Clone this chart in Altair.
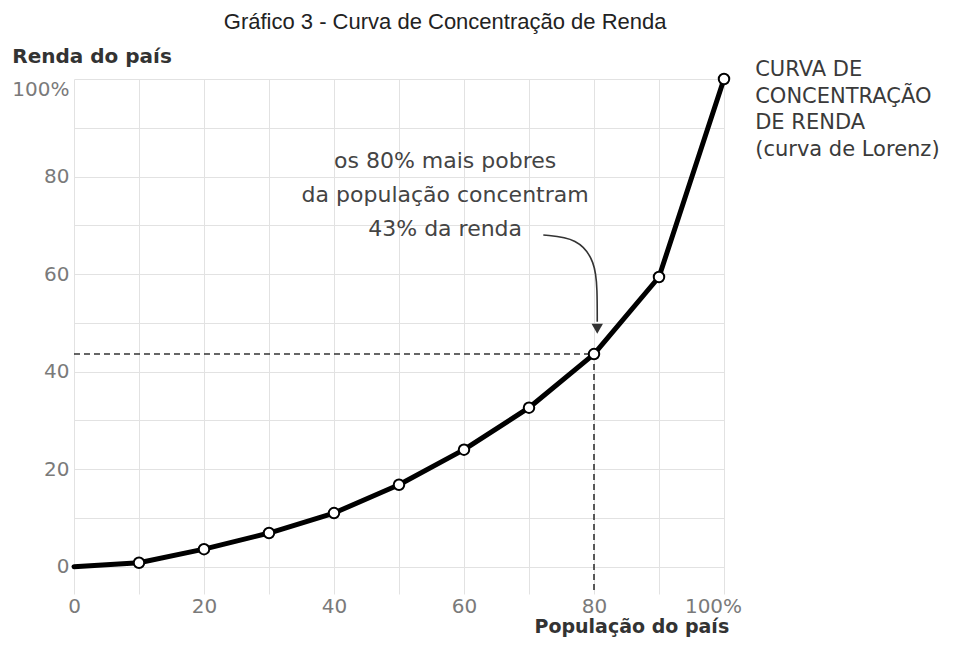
import altair as alt
import pandas as pd

# ---- data ----
populacao = [0, 10, 20, 30, 40, 50, 60, 70, 80, 90, 100]
renda = [0, 0.8, 3.6, 6.9, 11.0, 16.8, 24.0, 32.6, 43.6, 59.4, 100]

grid_ticks = [0, 10, 20, 30, 40, 50, 60, 70, 80, 90, 100]

# reference (dashed) lines at the 80% point
ref_x = [0, 80, 80, 80]
ref_y = [43.6, 43.6, 43.6, -5.6]
ref_seg = ["h", "h", "v", "v"]

# curved arrow from the annotation to the 80% point
arrow_x = [72.2, 77.5, 80.2, 80.5, 80.5]
arrow_y = [68.0, 67.4, 62.5, 56.7, 50.2]
arrow_head_x = [80.5]
arrow_head_y = [48.8]

annot_lines = ["os 80% mais pobres", "da população concentram", "43% da renda"]
annot_x = [57.1, 57.1, 57.1]
annot_y = [83.2, 76.2, 69.2]

legend_lines = ["CURVA DE", "CONCENTRAÇÃO", "DE RENDA", "(curva de Lorenz)"]
legend_x = [104.8, 104.8, 104.8, 104.8]
legend_y = [101.8, 96.3, 91.0, 85.5]

title_text = ["Gráfico 3 - Curva de Concentração de Renda"]
title_x = [57.1]
title_y = [111.7]

ytitle_text = ["Renda do país"]
ytitle_x = [-9.5]
ytitle_y = [104.5]

xtitle_text = ["População do país"]
xtitle_x = [100.8]
xtitle_y = [-12.4]

# ---- tables ----
curve = pd.DataFrame({"x": populacao, "y": renda})
pts = curve[curve["x"] > 0]
ref = pd.DataFrame({"x": ref_x, "y": ref_y, "seg": ref_seg, "i": range(len(ref_x))})
arrow = pd.DataFrame({"x": arrow_x, "y": arrow_y, "i": range(len(arrow_x))})
head = pd.DataFrame({"x": arrow_head_x, "y": arrow_head_y})
annot = pd.DataFrame({"x": annot_x, "y": annot_y, "t": annot_lines})
legend = pd.DataFrame({"x": legend_x, "y": legend_y, "t": legend_lines})
title_df = pd.DataFrame({"x": title_x, "y": title_y, "t": title_text})
ytitle_df = pd.DataFrame({"x": ytitle_x, "y": ytitle_y, "t": ytitle_text})
xtitle_df = pd.DataFrame({"x": xtitle_x, "y": xtitle_y, "t": xtitle_text})

xs = alt.Scale(domain=[0, 100], nice=False, zero=False)
ys = alt.Scale(domain=[-5.6, 100], nice=False, zero=False)

xaxis = alt.Axis(
    values=grid_ticks,
    labelExpr="datum.value % 20 == 0 ? (datum.value == 100 ? '100%' : datum.label) : ''",
    domain=False, ticks=False, grid=True, gridColor="#e2e2e2", gridWidth=1,
    labelFont="DejaVu Sans", labelFontSize=20, labelColor="#7a7a7a",
    labelPadding=2, title=None, labelFlush=False,
    labelOffset={"condition": {"test": "datum.value == 100", "value": -11}, "value": 0},
)
yaxis = alt.Axis(
    values=grid_ticks,
    labelExpr="datum.value % 20 == 0 ? (datum.value == 100 ? '100%' : datum.label) : ''",
    domain=False, ticks=False, grid=True, gridColor="#e2e2e2", gridWidth=1,
    labelFont="DejaVu Sans", labelFontSize=20, labelColor="#7a7a7a",
    labelPadding=5, title=None, labelFlush=False,
    labelBaseline={"condition": {"test": "datum.value == 100", "value": "top"}, "value": "middle"},
)

X = alt.X("x:Q", scale=xs, axis=xaxis)
Y = alt.Y("y:Q", scale=ys, axis=yaxis)

line = alt.Chart(curve).mark_line(
    color="black", strokeWidth=5, strokeCap="round", strokeJoin="round"
).encode(x=X, y=Y)

ref_lines = alt.Chart(ref).mark_line(
    color="#333333", strokeWidth=1.6, strokeDash=[6, 4]
).encode(x=X, y=Y, detail="seg:N", order="i:Q")

dots = alt.Chart(pts).mark_circle(
    fill="white", stroke="black", strokeWidth=2, size=110, opacity=1
).encode(x=X, y=Y)

arrow_line = alt.Chart(arrow).mark_line(
    color="#333333", strokeWidth=1.6, interpolate="basis"
).encode(x=X, y=Y, order="i:Q")

arrow_head = alt.Chart(head).mark_point(
    shape="triangle-down", filled=True, color="#333333", size=130, opacity=1
).encode(x=X, y=Y)

annot_text = alt.Chart(annot).mark_text(
    font="DejaVu Sans", fontSize=22, color="#444444", align="center", baseline="middle"
).encode(x=X, y=Y, text="t:N")

legend_text = alt.Chart(legend).mark_text(
    font="DejaVu Sans", fontSize=21, color="#3a3a3a", align="left", baseline="middle"
).encode(x=X, y=Y, text="t:N")

title_mark = alt.Chart(title_df).mark_text(
    font="Liberation Sans", fontSize=22, color="#222222", align="center", baseline="middle"
).encode(x=X, y=Y, text="t:N")

ytitle_mark = alt.Chart(ytitle_df).mark_text(
    font="DejaVu Sans", fontSize=20, fontWeight="bold", color="#333333",
    align="left", baseline="middle"
).encode(x=X, y=Y, text="t:N")

xtitle_mark = alt.Chart(xtitle_df).mark_text(
    font="DejaVu Sans", fontSize=19, fontWeight="bold", color="#333333",
    align="right", baseline="middle"
).encode(x=X, y=Y, text="t:N")

chart = alt.layer(
    line, ref_lines, arrow_line, arrow_head, dots,
    annot_text, legend_text, title_mark, ytitle_mark, xtitle_mark,
).properties(
    width=650, height=515,
    padding={"left": 66, "top": 71, "right": 222, "bottom": 44},
    autosize=alt.AutoSizeParams(type="none"),
    background="white",
).configure_view(stroke=None)

chart.save("out.html", embed_options={"renderer": "svg", "actions": False})
